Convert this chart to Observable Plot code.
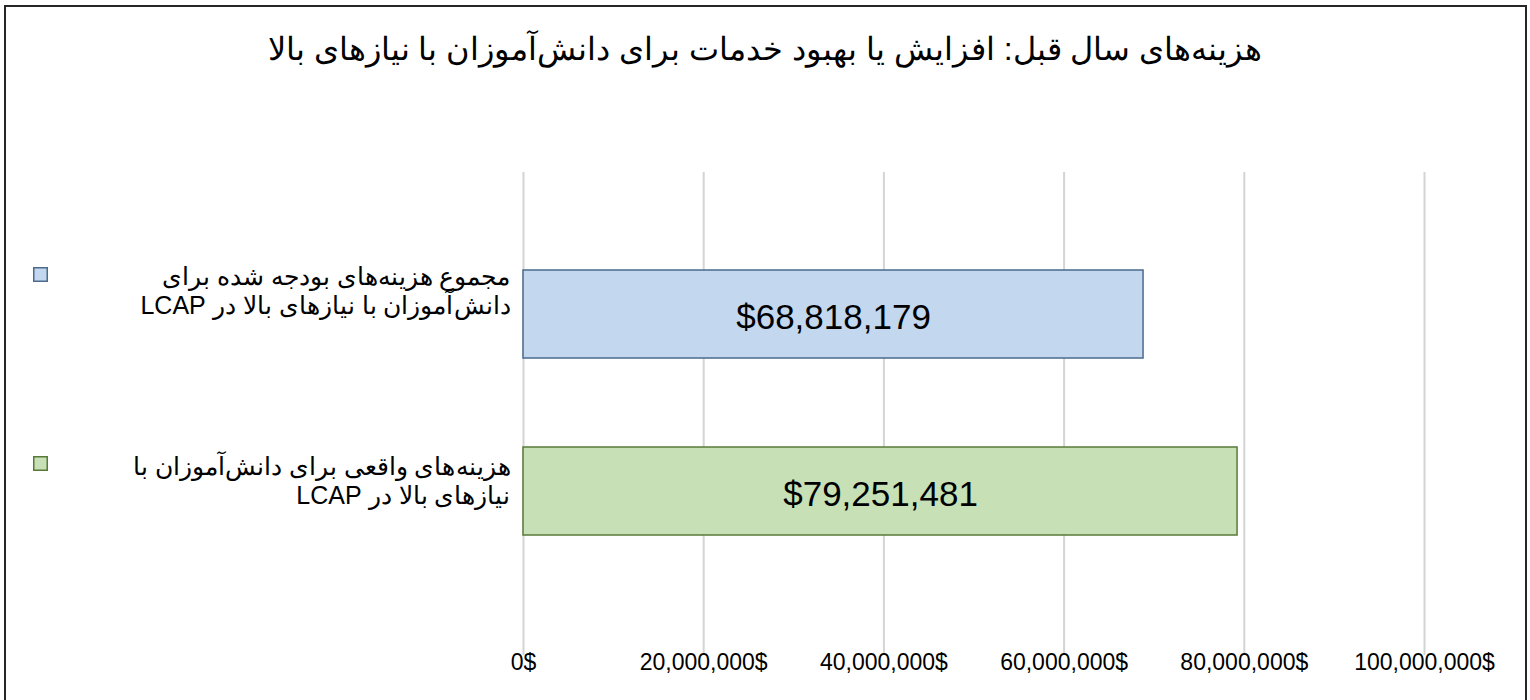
<!DOCTYPE html>
<html>
<head>
<meta charset="utf-8">
<script src="https://cdn.jsdelivr.net/npm/d3@7"></script>
<script src="https://cdn.jsdelivr.net/npm/@observablehq/plot@0.6"></script>
<style>
  body { margin: 0; background: #fff; font-family: "Liberation Sans", Arial, sans-serif; }
  #frame { position: absolute; left: 4px; top: 5px; width: 1523px; height: 720px; border: 2px solid #262626; box-sizing: border-box; }
  #title { position: absolute; left: 0; top: 29px; width: 1530px; text-align: center; font-size: 32px; line-height: 40px; color: #000; }
  #chart { position: absolute; left: 0; top: 100px; }
</style>
</head>
<body>
<div id="frame"></div>
<div id="title" dir="rtl">هزینه‌های سال قبل: افزایش یا بهبود خدمات برای دانش‌آموزان با نیازهای بالا</div>
<div id="chart"></div>
<script>
// ---- data ----
const categories = [
  "مجموع هزینه‌های بودجه شده برای دانش‌آموزان با نیازهای بالا در LCAP",
  "هزینه‌های واقعی برای دانش‌آموزان با نیازهای بالا در LCAP"
];
const labelLines = [
  ["مجموع هزینه‌های بودجه شده برای", "دانش‌آموزان با نیازهای بالا در LCAP"],
  ["هزینه‌های واقعی برای دانش‌آموزان با", "نیازهای بالا در LCAP"]
];
const values = [68818179, 79251481];
const fills = ["#c3d7ee", "#c7e0b5"];
const strokes = ["#4b6a8c", "#587a38"];
const xTicks = [0, 20000000, 40000000, 60000000, 80000000, 100000000];

const rows = categories.map((c, i) => ({
  cat: c,
  value: values[i],
  label: labelLines[i].map(l => "\u202B" + l + "\u202C").join("\n"),
  fill: fills[i],
  stroke: strokes[i]
}));

const font = "Liberation Sans, Arial, sans-serif";

const chart = Plot.plot({
  width: 1530,
  height: 600,
  marginLeft: 523,
  marginRight: 106,
  marginTop: 72,
  marginBottom: 45,
  style: { fontFamily: font, background: "transparent" },
  x: { domain: [0, 100000000], ticks: xTicks },
  y: { domain: categories, range: [169, 435], paddingInner: 0.5056, paddingOuter: 0, axis: null },
  marks: [
    Plot.gridX(xTicks, { stroke: "#d4d4d4", strokeOpacity: 1, strokeWidth: 2 }),
    Plot.axisX(xTicks, {
      tickSize: 0, tickPadding: -2, fontSize: 23, fill: "#000",
      tickFormat: d => d3.format(",")(d) + "$", label: null
    }),
    Plot.barX(rows, { x: "value", y: "cat", fill: "fill", stroke: "stroke", strokeWidth: 1.5 }),
    Plot.text(rows, {
      x: d => d.value / 2, y: "cat", text: d => "$" + d3.format(",")(d.value),
      fontSize: 35, fill: "#000", dy: 3
    }),
    // category labels
    Plot.text(rows.filter((d, i) => i === 0), {
      y: "cat", text: "label", frameAnchor: "left", dx: -13, dy: -24,
      textAnchor: "end", lineAnchor: "middle", lineHeight: 1.15, fontSize: 25, fill: "#000"
    }),
    Plot.text(rows.filter((d, i) => i === 1), {
      y: "cat", text: "label", frameAnchor: "left", dx: -13, dy: -11,
      textAnchor: "end", lineAnchor: "middle", lineHeight: 1.15, fontSize: 25, fill: "#000"
    }),
    // legend-like swatches
    Plot.dot(rows.filter((d, i) => i === 0), {
      y: "cat", frameAnchor: "left", dx: -483, dy: -40, symbol: "square", r: 7.6,
      fill: "fill", stroke: "stroke", strokeWidth: 1.5
    }),
    Plot.dot(rows.filter((d, i) => i === 1), {
      y: "cat", frameAnchor: "left", dx: -483, dy: -28, symbol: "square", r: 7.6,
      fill: "fill", stroke: "stroke", strokeWidth: 1.5
    })
  ]
});
document.getElementById("chart").appendChild(chart);
</script>
</body>
</html>
